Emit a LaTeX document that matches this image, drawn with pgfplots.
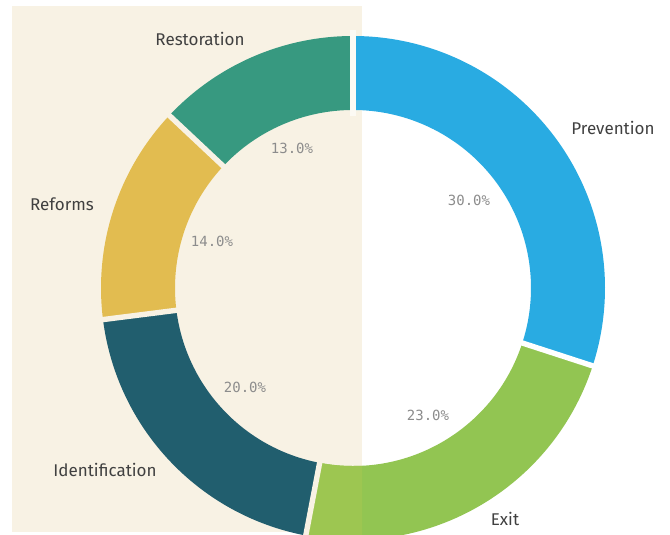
\documentclass[border=0pt]{standalone}
\usepackage{pgfplots}
\pgfplotsset{compat=1.18}
\usepackage{fontspec}
\setmainfont{Fira Sans}
\newfontfamily\monofont{DejaVu Sans Mono}
\definecolor{bgbeige}{HTML}{F8F2E4}
\definecolor{cPrev}{HTML}{29ABE2}
\definecolor{cExit}{HTML}{92C552}
\definecolor{cExitL}{HTML}{9DC651}
\definecolor{cIdent}{HTML}{215E6E}
\definecolor{cRef}{HTML}{E2BC50}
\definecolor{cRest}{HTML}{379980}
\definecolor{lblgray}{HTML}{404040}
\definecolor{pctgray}{HTML}{8C8C8C}
\newcommand\cx{353}
\newcommand\cy{247}
\def\Ro{126pt}
\def\Ri{89pt}
% start (cumulative %), value (%), colour
\newcommand\slice[3]{%
  \pgfmathsetmacro\sa{90-3.6*#1}%
  \pgfmathsetmacro\ea{90-3.6*(#1+#2)}%
  \edef\temp{\noexpand\fill[#3] ([shift={(axis cs:\cx,\cy)}]\sa:\Ro) arc[start angle=\sa,end angle=\ea,radius=\Ro] -- ([shift={(axis cs:\cx,\cy)}]\ea:\Ri) arc[start angle=\ea,end angle=\sa,radius=\Ri] -- cycle;}%
  \temp}
\newcommand\gapline[2]{%
  \pgfmathsetmacro\ga{90-3.6*#1}%
  \edef\temp{\noexpand\draw[#2,line width=2.7pt] ([shift={(axis cs:\cx,\cy)}]\ga:86pt) -- ([shift={(axis cs:\cx,\cy)}]\ga:129pt);}%
  \temp}
\begin{document}
\begin{tikzpicture}
\begin{axis}[
  hide axis, x=0.5pt, y=0.5pt,
  xmin=0, xmax=670, ymin=0, ymax=535,
  clip=true]
\fill[white] (axis cs:0,0) rectangle (axis cs:670,535);
\fill[bgbeige] (axis cs:12,3) rectangle (axis cs:362,529);
% data: Prevention 30, Exit 23, Identification 20, Reforms 14, Restoration 13
\slice{0}{30}{cPrev}
\slice{30}{23}{cExit}
\begin{scope}
\clip (axis cs:0,0) rectangle (axis cs:362,535);
\slice{30}{23}{cExitL}
\end{scope}
\slice{53}{20}{cIdent}
\slice{73}{14}{cRef}
\slice{87}{13}{cRest}
\gapline{0}{bgbeige!40!white}
\gapline{30}{white}
\gapline{53}{bgbeige}
\gapline{73}{bgbeige}
\gapline{87}{bgbeige}
\node[font=\fontsize{8.5}{10}\selectfont, text=lblgray] at (axis cs:200,496) {Restoration};
\node[font=\fontsize{8.5}{10}\selectfont, text=lblgray, anchor=west, inner sep=0pt] at (axis cs:571,407) {Prevention};
\node[font=\fontsize{8.5}{10}\selectfont, text=lblgray] at (axis cs:62,331) {Reforms};
\node[font=\fontsize{8.5}{10}\selectfont, text=lblgray] at (axis cs:105,65) {Identification};
\node[font=\fontsize{8.5}{10}\selectfont, text=lblgray] at (axis cs:505,16) {Exit};
\node[font=\monofont\fontsize{7}{8}\selectfont, text=pctgray] at (axis cs:469,335) {30.0\%};
\node[font=\monofont\fontsize{7}{8}\selectfont, text=pctgray] at (axis cs:292,387) {13.0\%};
\node[font=\monofont\fontsize{7}{8}\selectfont, text=pctgray] at (axis cs:212,294) {14.0\%};
\node[font=\monofont\fontsize{7}{8}\selectfont, text=pctgray] at (axis cs:245,148) {20.0\%};
\node[font=\monofont\fontsize{7}{8}\selectfont, text=pctgray] at (axis cs:428,120) {23.0\%};
\end{axis}
\pgfresetboundingbox
\path[use as bounding box] (current axis.south west) rectangle (current axis.north east);
\end{tikzpicture}
\end{document}
